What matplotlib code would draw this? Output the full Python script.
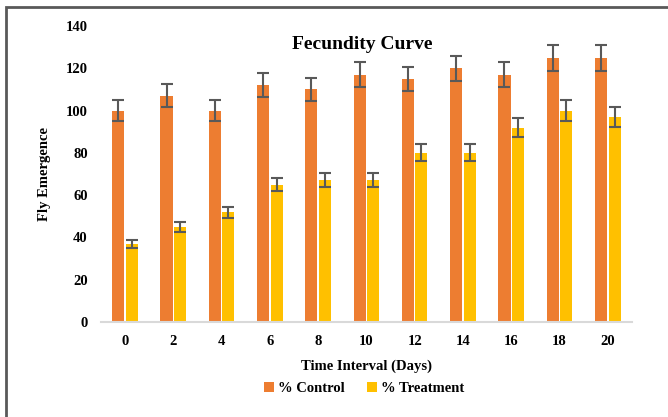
import numpy as np
import matplotlib.pyplot as plt
from matplotlib.patches import Rectangle

days = ['0', '2', '4', '6', '8', '10', '12', '14', '16', '18', '20']
control = [100, 107, 100, 112, 110, 117, 115, 120, 117, 125, 125]
control_err = [5, 5.4, 5, 5.6, 5.5, 5.9, 5.8, 6, 5.9, 6.2, 6.2]
treatment = [37, 45, 52, 65, 67, 67, 80, 80, 92, 100, 97]
treatment_err = [1.9, 2.2, 2.6, 3.2, 3.3, 3.3, 4, 4, 4.6, 5, 4.9]

plt.rcParams['font.family'] = ['Liberation Serif', 'DejaVu Serif']
plt.rcParams['font.weight'] = 'bold'

fig = plt.figure(figsize=(6.68, 4.17), dpi=100)
ax = fig.add_axes([0.151, 0.2278, 0.795, 0.7098])

x = np.arange(len(days))
w = 0.25
err_kw = dict(ecolor='#595959', elinewidth=1.5, capsize=4, capthick=1.5)
ax.bar(x - 0.14, control, w, yerr=control_err, color='#ED7D31',
       label='% Control', error_kw=err_kw)
ax.bar(x + 0.14, treatment, w, yerr=treatment_err, color='#FFC000',
       label='% Treatment', error_kw=err_kw)

ax.set_xlim(-0.5, 10.5)
ax.set_ylim(0, 140)
ax.set_yticks(range(0, 141, 20))
ax.set_xticks(x)
ax.set_xticklabels(days)
for s in ['top', 'right', 'left']:
    ax.spines[s].set_visible(False)
ax.spines['bottom'].set_color('#d9d9d9')
ax.spines['bottom'].set_linewidth(1.5)
ax.tick_params(axis='both', length=0, labelsize=10.5)
ax.tick_params(axis='y', pad=9.5)
ax.tick_params(axis='x', pad=9)

ax.set_xlabel('Time Interval (Days)', fontsize=10.5, fontweight='bold', labelpad=9)
ax.set_ylabel('Fly Emergence', fontsize=10.5, fontweight='bold')
ax.yaxis.set_label_coords(-0.094, 0.5)
fig.text(0.543, 0.893, 'Fecundity Curve', ha='center', va='center',
         fontsize=14, fontweight='bold')

fig.legend(loc='center', bbox_to_anchor=(0.545, 0.068), ncol=2, frameon=False,
           fontsize=10.5, handlelength=0.7, handleheight=0.7,
           handletextpad=0.3, columnspacing=1.5)

fig.patches.append(Rectangle((6 / 668, -0.1), 1.2, 1.1 - 7 / 417,
                             transform=fig.transFigure, fill=False,
                             edgecolor='#595959', linewidth=2))

fig.savefig('out.png', dpi=100)
